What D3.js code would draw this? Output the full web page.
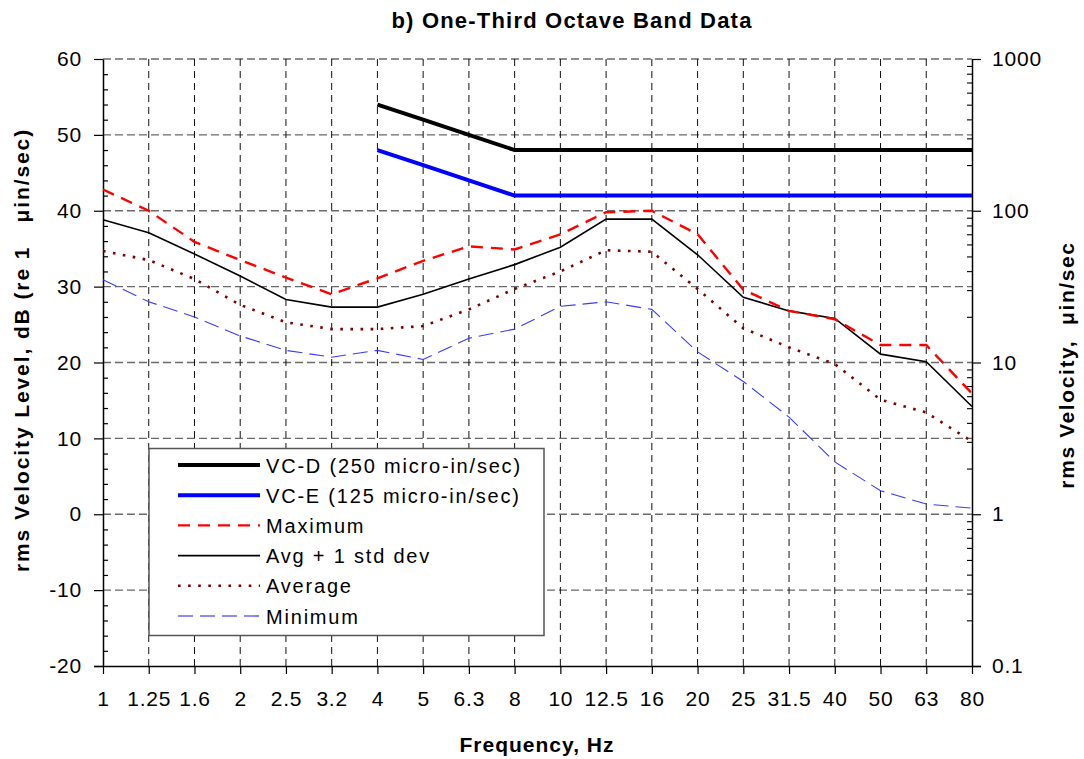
<!DOCTYPE html>
<html>
<head>
<meta charset="utf-8">
<script src="https://cdn.jsdelivr.net/npm/d3@7"></script>
<style>
  html, body { margin: 0; padding: 0; background: #fff; }
  svg { display: block; font-family: "Liberation Sans", Arial, sans-serif; }
  text { white-space: pre; }
</style>
</head>
<body>
<svg id="chart" width="1084" height="759"></svg>
<script>
// ---------- data ----------
const categories = ["1","1.25","1.6","2","2.5","3.2","4","5","6.3","8","10","12.5","16","20","25","31.5","40","50","63","80"];
const vcD     = [null,null,null,null,null,null,54,52,50,48,48,48,48,48,48,48,48,48,48,48];
const vcE     = [null,null,null,null,null,null,48,46,44,42,42,42,42,42,42,42,42,42,42,42];
const maximum = [42.8,40.0,35.9,33.5,31.2,29.0,31.1,33.4,35.3,34.9,36.9,39.8,40.0,36.9,29.6,26.8,25.7,22.3,22.3,15.9];
const avgStd  = [38.8,37.1,34.3,31.4,28.3,27.3,27.3,29.0,31.0,32.9,35.2,38.9,38.9,34.2,28.6,26.8,25.8,21.1,20.1,14.2];
const average = [34.7,33.5,31.0,27.6,25.3,24.4,24.4,24.8,27.0,29.7,32.0,34.8,34.6,29.7,24.5,22.0,19.8,15.1,13.4,9.6];
const minimum = [30.9,28.0,26.0,23.5,21.6,20.7,21.6,20.4,23.2,24.4,27.4,28.0,27.0,21.4,17.5,12.8,6.9,3.1,1.35,0.8];
const leftTicks  = [-20,-10,0,10,20,30,40,50,60];
const rightTicks = [0.1,1,10,100,1000];
const seriesNames = ["VC-D (250 micro-in/sec)","VC-E (125 micro-in/sec)","Maximum","Avg + 1 std dev","Average","Minimum"];

// ---------- layout ----------
const L = 103, R = 972, T = 59, B = 666;
const svg = d3.select("#chart");

const x = d3.scalePoint().domain(categories).range([L, R]);
const y = d3.scaleLinear().domain([-20, 60]).range([B, T]);
const yR = d3.scaleLog().domain([0.1, 1000]).range([B, T]);

// ---------- grid ----------
const grid = svg.append("g");
grid.selectAll("line.h").data(leftTicks.filter(v => v > -20)).join("line")
  .attr("x1", L).attr("x2", R).attr("y1", d => y(d)).attr("y2", d => y(d))
  .attr("stroke", "#6a6a6a").attr("stroke-width", 1.3).attr("stroke-dasharray", "8,4");
grid.selectAll("line.v").data(categories.slice(1, -1)).join("line")
  .attr("x1", d => x(d)).attr("x2", d => x(d)).attr("y1", T).attr("y2", B)
  .attr("stroke", "#111").attr("stroke-width", 1).attr("stroke-dasharray", "7,5");

// ---------- axes ----------
const styleAxis = g => {
  g.select(".domain").attr("stroke", "#000").attr("stroke-width", 1.5);
  g.selectAll(".tick line").attr("stroke", "#000").attr("stroke-width", 1.2);
};
const styleText = g => g.selectAll("text").attr("font-size", 21).attr("letter-spacing", 0.8)
  .attr("fill", "#000").attr("font-family", "Liberation Sans, Arial, sans-serif");

// left major
svg.append("g").attr("transform", `translate(${L},0)`)
  .call(d3.axisLeft(y).tickValues(leftTicks).tickSize(9).tickPadding(12).tickSizeOuter(0)
    .tickFormat(d => String(d)))
  .call(styleAxis)
  .call(styleText);
// left minor (inside)
const minorL = d3.range(-20, 61, 2).filter(v => v % 10 !== 0);
svg.append("g").attr("transform", `translate(${L},0)`)
  .call(d3.axisRight(y).tickValues(minorL).tickSize(5).tickFormat("").tickSizeOuter(0))
  .call(g => g.select(".domain").remove())
  .call(g => g.selectAll(".tick line").attr("stroke", "#000").attr("stroke-width", 1.2));

// right major
svg.append("g").attr("transform", `translate(${R},0)`)
  .call(d3.axisRight(yR).tickValues(rightTicks).tickSize(9).tickPadding(11).tickSizeOuter(0)
    .tickFormat(d => d < 1 ? "0.1" : String(d)))
  .call(styleAxis)
  .call(styleText);
// right minor (inside)
const minorR = [];
[0.1, 1, 10, 100].forEach(dec => { for (let k = 2; k <= 9; k++) minorR.push(dec * k); });
svg.append("g").attr("transform", `translate(${R},0)`)
  .call(d3.axisLeft(yR).tickValues(minorR).tickSize(5).tickFormat("").tickSizeOuter(0))
  .call(g => g.select(".domain").remove())
  .call(g => g.selectAll(".tick line").attr("stroke", "#000").attr("stroke-width", 1.1));

// bottom
svg.append("g").attr("transform", `translate(0,${B})`)
  .call(d3.axisBottom(x).tickSize(8).tickPadding(17).tickSizeOuter(0))
  .call(styleAxis)
  .call(g => g.select(".domain").attr("d", `M${L - 9},0.5H${R + 9}`))
  .call(styleText);

// ---------- series ----------
const series = [
  { name: seriesNames[5], values: minimum, color: "#3a3aff", width: 1.1, dash: "15,7" },
  { name: seriesNames[4], values: average, color: "#800000", width: 2.6, dash: "2.6,7.5" },
  { name: seriesNames[3], values: avgStd,  color: "#000000", width: 1.6, dash: null },
  { name: seriesNames[2], values: maximum, color: "#ff0000", width: 2.4, dash: "12,8" },
  { name: seriesNames[1], values: vcE,     color: "#0000ff", width: 4,   dash: null },
  { name: seriesNames[0], values: vcD,     color: "#000000", width: 4,   dash: null }
];
const line = d3.line()
  .defined(d => d.v != null)
  .x(d => x(d.c)).y(d => y(d.v));

svg.append("g").selectAll("path").data(series).join("path")
  .attr("d", s => line(s.values.map((v, i) => ({ c: categories[i], v }))))
  .attr("fill", "none")
  .attr("stroke", s => s.color)
  .attr("stroke-width", s => s.width)
  .attr("stroke-dasharray", s => s.dash)
  .attr("stroke-linejoin", "miter");

// ---------- legend ----------
const lg = svg.append("g");
lg.append("rect").attr("x", 149).attr("y", 448.5).attr("width", 395).attr("height", 187)
  .attr("fill", "#fff").attr("stroke", "#555").attr("stroke-width", 1.5);
const legendOrder = [5, 4, 3, 2, 1, 0].map(i => series[i]);
const rows = lg.selectAll("g.row").data(legendOrder).join("g")
  .attr("transform", (d, i) => `translate(0,${465 + i * 30.2})`);
rows.append("line").attr("x1", 178).attr("x2", 260).attr("y1", 0).attr("y2", 0)
  .attr("stroke", d => d.name === "Minimum" ? "#6666ff" : d.color)
  .attr("stroke-width", d => d.width + (d.name === "Minimum" ? 0.6 : 0))
  .attr("stroke-dasharray", d => d.dash);
rows.append("text").attr("x", 266).attr("y", 7.5).attr("font-size", 20).attr("letter-spacing", 1.8)
  .attr("fill", "#000").text(d => d.name);

// ---------- titles ----------
svg.append("text").attr("x", 572).attr("y", 28).attr("text-anchor", "middle")
  .attr("font-size", 22).attr("font-weight", "bold").attr("letter-spacing", 1.2)
  .text("b) One-Third Octave Band Data");
svg.append("text").attr("x", 537).attr("y", 752).attr("text-anchor", "middle")
  .attr("font-size", 21).attr("font-weight", "bold").attr("letter-spacing", 1.0)
  .text("Frequency, Hz");
svg.append("text").attr("transform", "translate(29,350) rotate(-90)").attr("text-anchor", "middle")
  .attr("font-size", 21).attr("font-weight", "bold").attr("letter-spacing", 1.9)
  .text("rms Velocity Level, dB (re 1   μin/sec)");
svg.append("text").attr("transform", "translate(1074,365) rotate(-90)").attr("text-anchor", "middle")
  .attr("font-size", 21).attr("font-weight", "bold").attr("letter-spacing", 1.6)
  .text("rms Velocity,  μin/sec");
</script>
</body>
</html>
